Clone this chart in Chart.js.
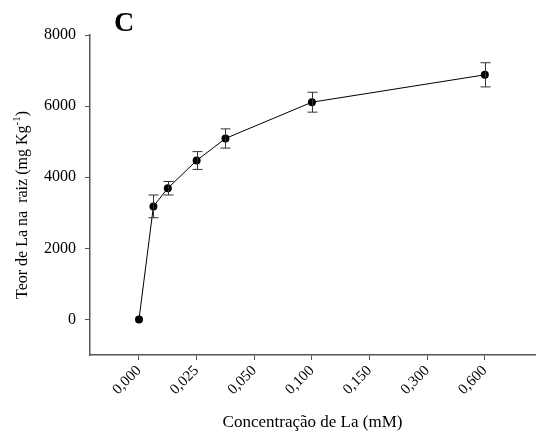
<!DOCTYPE html>
<html>
<head>
<meta charset="utf-8">
<script src="https://cdn.jsdelivr.net/npm/chart.js@4"></script>
<style>
  html, body { margin: 0; padding: 0; background: #fff; }
  #wrap { width: 539px; height: 439px; position: relative; }
</style>
</head>
<body>
<div id="wrap"><canvas id="LaChart"></canvas></div>
<script>
// tick labels of the x axis (evenly spaced, not proportional)
const xTickLabels = ['0,000', '0,025', '0,050', '0,100', '0,150', '0,300', '0,600'];
// position of each point along those ticks
const xPos = [0, 0.25, 0.5, 1, 1.5, 3, 6];
const laValues = [0, 3180, 3690, 4470, 5090, 6110, 6880];
const laErrors = [0, 320, 190, 250, 270, 280, 340];
const yTicks = [0, 2000, 4000, 6000, 8000];

const serif = "'Liberation Serif', 'Times New Roman', serif";
const axisColor = '#555';

// error bars drawn from the scales
const errorBars = {
  id: 'errorBars',
  afterDatasetsDraw(chart) {
    const ctx = chart.ctx;
    const xs = chart.scales.x, ys = chart.scales.y;
    ctx.save();
    ctx.strokeStyle = '#333';
    ctx.lineWidth = 1;
    for (let i = 0; i < laValues.length; i++) {
      if (!laErrors[i]) continue;
      const px = Math.round(xs.getPixelForValue(xPos[i])) + 0.5;
      const top = ys.getPixelForValue(laValues[i] + laErrors[i]);
      const bot = ys.getPixelForValue(laValues[i] - laErrors[i]);
      ctx.beginPath();
      ctx.moveTo(px, top); ctx.lineTo(px, bot);
      ctx.moveTo(px - 5, top); ctx.lineTo(px + 5, top);
      ctx.moveTo(px - 5, bot); ctx.lineTo(px + 5, bot);
      ctx.stroke();
    }
    ctx.restore();
  }
};

// panel letter and y title (with a real superscript)
const extraText = {
  id: 'extraText',
  afterDraw(chart) {
    const ctx = chart.ctx;
    ctx.save();
    ctx.fillStyle = '#000';
    ctx.font = 'bold 28px ' + serif;
    ctx.textBaseline = 'alphabetic';
    ctx.fillText('C', 114, 31);

    const main = 'Teor de La na  raiz (mg Kg';
    const sup = '-1';
    const end = ')';
    ctx.font = '16px ' + serif;
    const w1 = ctx.measureText(main).width;
    const w3 = ctx.measureText(end).width;
    ctx.font = '11px ' + serif;
    const w2 = ctx.measureText(sup).width;
    const total = w1 + w2 + w3;
    ctx.translate(27, 205 + total / 2);
    ctx.rotate(-Math.PI / 2);
    ctx.font = '16px ' + serif;
    ctx.fillText(main, 0, 0);
    ctx.font = '11px ' + serif;
    ctx.fillText(sup, w1, -7);
    ctx.font = '16px ' + serif;
    ctx.fillText(end, w1 + w2, 0);
    ctx.restore();
  }
};

new Chart(document.getElementById('LaChart'), {
  type: 'scatter',
  data: {
    datasets: [{
      data: xPos.map((x, i) => ({ x: x, y: laValues[i] })),
      showLine: true,
      borderColor: '#000',
      borderWidth: 1,
      backgroundColor: '#000',
      pointRadius: 4,
      pointBorderWidth: 0
    }]
  },
  options: {
    responsive: true,
    maintainAspectRatio: false,
    animation: false,
    layout: { padding: { top: 35, right: 0, left: 0, bottom: 0 } },
    plugins: {
      legend: { display: false },
      tooltip: { enabled: false }
    },
    scales: {
      x: {
        type: 'linear',
        min: -0.85,
        max: 6.87,
        afterBuildTicks: axis => { axis.ticks = xTickLabels.map((l, i) => ({ value: i })); },
        afterFit: axis => { axis.height = 84; },
        grid: { drawOnChartArea: false, drawTicks: true, tickLength: 5, color: axisColor },
        border: { display: true, color: axisColor, width: 1.5 },
        ticks: {
          color: '#000',
          font: { family: serif, size: 15 },
          minRotation: 45,
          maxRotation: 45,
          padding: 2,
          callback: v => xTickLabels[v]
        },
        title: {
          display: true,
          text: 'Concentração de La (mM)',
          color: '#000',
          font: { family: serif, size: 17 },
          padding: { top: 0, bottom: 6 }
        }
      },
      y: {
        min: -1000,
        max: 8000,
        afterBuildTicks: axis => { axis.ticks = yTicks.map(v => ({ value: v })); },
        afterFit: axis => { axis.width = 90; },
        grid: { drawOnChartArea: false, drawTicks: true, tickLength: 5, color: axisColor },
        border: { display: true, color: axisColor, width: 1.5 },
        ticks: {
          color: '#000',
          font: { family: serif, size: 16 },
          padding: 9,
          callback: v => v
        }
      }
    }
  },
  plugins: [errorBars, extraText]
});
</script>
</body>
</html>
